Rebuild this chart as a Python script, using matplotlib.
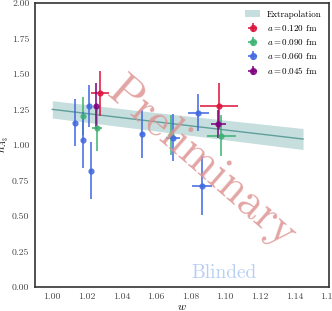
import numpy as np
import matplotlib
matplotlib.use("Agg")
import matplotlib.pyplot as plt

plt.rcParams["font.family"] = "cmr10"
plt.rcParams["mathtext.fontset"] = "cm"
plt.rcParams["axes.formatter.use_mathtext"] = True
plt.rcParams["axes.unicode_minus"] = False

# extrapolation band
w_fit = [1.000, 1.050, 1.100, 1.145]
h_fit = [1.251, 1.178, 1.106, 1.042]
h_fit_err = [0.061, 0.064, 0.069, 0.074]

# lattice data, one block per lattice spacing
labels = ["0.120", "0.090", "0.060", "0.045"]
colors = ["crimson", "mediumseagreen", "royalblue", "purple"]

w_120 = [1.0275, 1.0963]
h_120 = [1.364, 1.275]
werr_120 = [0.0051, 0.011]
herr_120 = [0.16, 0.16]

w_090 = [1.0179, 1.0259, 1.0686, 1.0978]
h_090 = [1.204, 1.117, 1.070, 1.066]
werr_090 = [0.0008, 0.0029, 0.0008, 0.0085]
herr_090 = [0.135, 0.16, 0.14, 0.145]

w_060 = [1.0131, 1.0179, 1.0212, 1.0223, 1.0517, 1.0697, 1.0844, 1.0867]
h_060 = [1.157, 1.035, 1.275, 0.819, 1.075, 1.052, 1.228, 0.714]
werr_060 = [0.0006, 0.0006, 0.0008, 0.0006, 0.0012, 0.004, 0.006, 0.0058]
herr_060 = [0.165, 0.20, 0.147, 0.20, 0.17, 0.167, 0.13, 0.21]

w_045 = [1.0252, 1.0961]
h_045 = [1.275, 1.148]
werr_045 = [0.0006, 0.0046]
herr_045 = [0.16, 0.10]

series = [(w_120, h_120, werr_120, herr_120),
          (w_090, h_090, werr_090, herr_090),
          (w_060, h_060, werr_060, herr_060),
          (w_045, h_045, werr_045, herr_045)]

fig = plt.figure(figsize=(3.32, 3.11), dpi=100)
ax = fig.add_axes([35 / 332, 24 / 311, 294 / 332, 284 / 311])

wf = np.array(w_fit)
hf = np.array(h_fit)
ef = np.array(h_fit_err)
ax.fill_between(wf, hf - ef, hf + ef, color="#c6dfde", lw=0, label="Extrapolation")
ax.plot(wf, hf, color="#5f9e9b", lw=1.0)

for (w, h, we, he), lab, c in zip(series, labels, colors):
    ax.errorbar(w, h, xerr=we, yerr=he, fmt="o", color=c, ms=3.5,
                elinewidth=1.4, capsize=0, alpha=0.8,
                label=r"$a = %s$ fm" % lab)

ax.set_xlim(0.99, 1.16)
ax.set_ylim(0, 2)
ax.set_xticks(np.arange(1.00, 1.161, 0.02))
ax.set_yticks(np.arange(0, 2.01, 0.25))
ax.xaxis.set_major_formatter(matplotlib.ticker.FormatStrFormatter("%.2f"))
ax.yaxis.set_major_formatter(matplotlib.ticker.FormatStrFormatter("%.2f"))
ax.tick_params(length=0, labelsize=7, labelcolor="#444444", pad=4)
for s in ax.spines.values():
    s.set_color("#333333")
    s.set_linewidth(1.2)

ax.set_xlabel(r"$w$", fontsize=8, labelpad=1)
ax.set_ylabel(r"$h_{A_3}$", fontsize=8, labelpad=1)

ax.text(1.086, 0.87, "Preliminary", fontsize=33, color="#dd9593", alpha=0.85,
        rotation=-41, ha="center", va="center", rotation_mode="anchor")
ax.text(1.0994, 0.10, "Blinded", fontsize=14, color="#b8cff4",
        ha="center", va="center")

ax.legend(loc="upper right", frameon=False, fontsize=6.5, handlelength=1.6,
          labelspacing=0.45, borderaxespad=0.4, markerscale=1.2)

fig.savefig("out.png", dpi=100)
